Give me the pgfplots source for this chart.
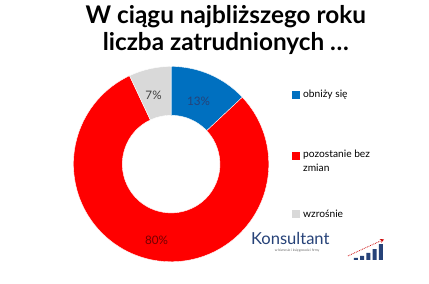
\documentclass[border=0pt]{standalone}
\usepackage{fontspec}
\setmainfont{Lato}
\usepackage{pgfplots}
\usepackage{pgfplotstable}
\pgfplotsset{compat=1.18}
\definecolor{sliceblue}{RGB}{0,112,192}
\definecolor{slicered}{RGB}{255,0,0}
\definecolor{slicegray}{RGB}{217,217,217}
\definecolor{logoblue}{RGB}{38,66,120}

% shares in percent: obniży się, pozostanie bez zmian, wzrośnie
\pgfplotstableread{
share
13
80
7
}\sharetable

\begin{document}
\pgfplotstablegetelem{0}{share}\of\sharetable \let\va\pgfplotsretval
\pgfplotstablegetelem{1}{share}\of\sharetable \let\vb\pgfplotsretval
\pgfplotstablegetelem{2}{share}\of\sharetable \let\vc\pgfplotsretval
\pgfmathsetmacro{\aa}{90}
\pgfmathsetmacro{\ab}{90-3.6*\va}
\pgfmathsetmacro{\ac}{\ab-3.6*\vb}
\pgfmathsetmacro{\ad}{\ac-3.6*\vc}
\begin{tikzpicture}
\useasboundingbox[fill=white] (0,0) rectangle (429bp,290bp);

\node[font=\fontsize{25}{28}\selectfont\bfseries, align=center] at (221bp,259bp)
  {W ciągu najbliższego roku\\liczba zatrudnionych \dots};

\begin{axis}[
    at={(165bp,122bp)}, anchor=center,
    scale only axis, width=200bp, height=200bp,
    xmin=-1, xmax=1, ymin=-1, ymax=1,
    hide axis, clip=false]
  \fill[sliceblue, draw=white, line width=0.4pt]
    (axis cs:{cos(\aa)},{sin(\aa)}) arc[start angle=\aa, end angle=\ab, radius=100bp]
    -- (axis cs:{0.5*cos(\ab)},{0.5*sin(\ab)}) arc[start angle=\ab, end angle=\aa, radius=50bp] -- cycle;
  \fill[slicered, draw=white, line width=0.4pt]
    (axis cs:{cos(\ab)},{sin(\ab)}) arc[start angle=\ab, end angle=\ac, radius=100bp]
    -- (axis cs:{0.5*cos(\ac)},{0.5*sin(\ac)}) arc[start angle=\ac, end angle=\ab, radius=50bp] -- cycle;
  \fill[slicegray, draw=white, line width=0.4pt]
    (axis cs:{cos(\ac)},{sin(\ac)}) arc[start angle=\ac, end angle=\ad, radius=100bp]
    -- (axis cs:{0.5*cos(\ad)},{0.5*sin(\ad)}) arc[start angle=\ad, end angle=\ac, radius=50bp] -- cycle;
  \node[font=\fontsize{12}{14}\selectfont, text=logoblue] at (axis cs:0.28,0.64) {\va\%};
  \node[font=\fontsize{12}{14}\selectfont, text=black!75] at (axis cs:-0.18,0.70) {\vc\%};
  \node[font=\fontsize{12}{14}\selectfont, text=red!45!black] at (axis cs:-0.15,-0.78) {\vb\%};
\end{axis}

% legend
\begin{scope}[font=\fontsize{10.5}{15}\selectfont]
  \fill[sliceblue] (289bp,189bp) rectangle (297bp,197bp);
  \node[anchor=west, inner sep=0pt] at (300bp,193bp) {obniży się};
  \fill[slicered] (289bp,126bp) rectangle (297bp,134bp);
  \node[anchor=north west, inner sep=0pt, align=left] at (300bp,137bp) {pozostanie bez\\zmian};
  \fill[slicegray] (289bp,67bp) rectangle (297bp,75bp);
  \node[anchor=west, inner sep=0pt] at (300bp,71bp) {wzrośnie};
\end{scope}

% logo
\node[font=\fontsize{17}{19}\selectfont, text=logoblue] at (287bp,46bp) {Konsultant};
\node[font=\fontsize{3.5}{4}\selectfont, text=black!60] at (294bp,33bp) {w biznesie i księgowości firmy};
\begin{axis}[
    at={(351bp,24bp)}, anchor=south west,
    scale only axis, width=32bp, height=18bp,
    xmin=0.5, xmax=5.5, ymin=0, ymax=18,
    hide axis, ybar, bar width=4bp]
  \addplot[fill=logoblue, draw=none] coordinates {(1,2) (2,4) (3,7) (4,11) (5,16)};
\end{axis}
\draw[red!80!black, densely dotted, thick, -stealth] (346bp,28bp) -- (383bp,45bp);
\end{tikzpicture}
\end{document}
